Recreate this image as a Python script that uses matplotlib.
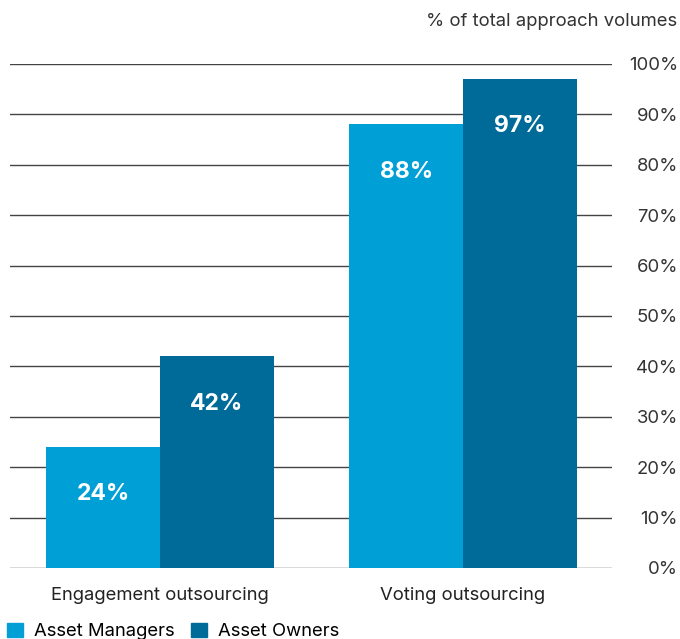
import matplotlib.pyplot as plt
import numpy as np
from matplotlib.patches import Patch

plt.rcParams['font.family'] = ['Inter', 'DejaVu Sans']

categories = ['Engagement outsourcing', 'Voting outsourcing']
series = ['Asset Managers', 'Asset Owners']
managers = [24, 88]
owners = [42, 97]
colors = ['#00a0d6', '#006a99']

fig = plt.figure(figsize=(6.8, 6.39), dpi=100)
ax = fig.add_axes([10/680, 1 - 568/639, 602/680, 504/639])

x = np.arange(len(categories))
w = 0.375
b1 = ax.bar(x - w/2, managers, w, color=colors[0], zorder=3)
b2 = ax.bar(x + w/2, owners, w, color=colors[1], zorder=3)

# value labels sit a fixed distance under each bar top
for bars, vals in ((b1, managers), (b2, owners)):
    for r, v in zip(bars, vals):
        ax.annotate(f'{v}%', (r.get_x() + r.get_width()/2, v),
                    xytext=(0, -34), textcoords='offset points',
                    ha='center', va='center', color='white',
                    fontsize=16.5, fontweight='bold', zorder=4)

ax.set_xlim(-0.495, 1.492)
ax.set_ylim(0, 100)
ax.set_yticks(range(0, 101, 10))
ax.set_yticklabels([f'{t}%' for t in range(0, 101, 10)])
ax.yaxis.tick_right()
ax.tick_params(axis='y', length=0, pad=47.5, labelsize=13.3, colors='#333333')
for lab in ax.get_yticklabels():
    lab.set_horizontalalignment('right')
ax.grid(axis='y', color='#444444', lw=1, zorder=0)

ax.set_xticks(x)
ax.set_xticklabels(categories)
ax.tick_params(axis='x', length=0, pad=14, labelsize=13.3, colors='#222222')

for s in ax.spines.values():
    s.set_visible(False)

fig.text(677/680, 1 - 22/639, '% of total approach volumes', ha='right',
         va='center', fontsize=13.3, color='#333333')

handles = [Patch(color=c) for c in colors]
fig.legend(handles, series, loc='lower left', bbox_to_anchor=(0.005, -0.008),
           ncol=2, frameon=False, fontsize=13.3, handlelength=0.85,
           handleheight=0.85, handletextpad=0.6, columnspacing=0.9,
           borderaxespad=0, borderpad=0.2)

fig.savefig('out.png', dpi=100)
